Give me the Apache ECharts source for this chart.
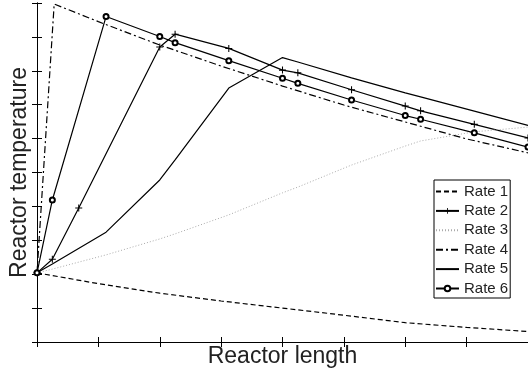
<!DOCTYPE html>
<html>
<head>
<meta charset="utf-8">
<script src="https://cdn.jsdelivr.net/npm/echarts@6/dist/echarts.min.js"></script>
<style>
html,body{margin:0;padding:0;background:#fff;}
#c{width:528px;height:376px;}
</style>
</head>
<body>
<div id="c"></div>
<script>
// ---- data (x: reactor length units 0..8, y: temperature units 0..10) ----
const seriesNames = ['Rate 1','Rate 2','Rate 3','Rate 4','Rate 5','Rate 6'];
const xTicks = [0,1,2,3,4,5,6,7,8];
const yTicks = [0,1,2,3,4,5,6,7,8,9,10];

const rate1X = [0,1,2,3,4,5,6,7,8];
const rate1Y = [2.04,1.72,1.44,1.21,1.00,0.79,0.57,0.43,0.31];

const stepX  = [0,0.25,1.125,2,2.25,3.125,4,4.25,5.125,6,6.25,7.125,8];
const rate2X = [0,0.25,0.68,2,2.25,3.125,4,4.25,5.125,6,6.25,7.125,8];
const rate2Y = [2.04,2.44,3.95,8.70,9.08,8.66,8.02,7.94,7.44,6.96,6.82,6.42,6.02];
const rate3Y = [2.04,2.15,2.57,3.04,3.19,3.75,4.40,4.57,5.22,5.78,5.93,6.20,6.34];
const rate5Y = [2.04,2.30,3.24,4.78,5.37,7.49,8.39,8.26,7.79,7.35,7.23,6.81,6.39];
const rate6Y = [2.04,4.19,9.60,9.01,8.83,8.30,7.78,7.63,7.14,6.68,6.57,6.17,5.75];

const rate4X = [0,0.28,1,2,3,4,5,6,7,8];
const rate4Y = [2.04,9.97,9.45,8.76,8.14,7.55,6.99,6.49,5.99,5.58];

function pairs(xs, ys){ return xs.map((x,i)=>[x, ys[i]]); }

const chart = echarts.init(document.getElementById('c'), null, {renderer:'canvas'});
const FONT = 'Liberation Sans, Arial, Helvetica, sans-serif';
const plusPath = 'path://M-0.15,-1H0.15V-0.15H1V0.15H0.15V1H-0.15V0.15H-1V-0.15H-0.15Z';
const HIDE = {color:'rgba(0,0,0,0)', borderColor:'rgba(0,0,0,0)', borderWidth:0};

const axisCommon = {
  type:'value',
  axisLine:{show:true, lineStyle:{color:'#000', width:1}},
  axisTick:{show:true, inside:true, length:5, lineStyle:{color:'#000', width:1}},
  axisLabel:{show:false},
  splitLine:{show:false}
};

const option = {
  animation:false,
  backgroundColor:'#fff',
  grid:{left:37, top:3, width:493, height:339, containLabel:false},
  xAxis:[
    Object.assign({}, axisCommon, {position:'bottom', min:0, max:8, interval:1,
      name:'Reactor length', nameLocation:'middle', nameGap:3,
      nameTextStyle:{fontFamily:FONT, fontSize:23, color:'#222', verticalAlign:'top'}}),
    Object.assign({}, axisCommon, {position:'top', min:0, max:8, interval:1})
  ],
  yAxis:[
    Object.assign({}, axisCommon, {position:'left', min:0, max:10, interval:1,
      name:'Reactor temperature', nameLocation:'middle', nameGap:6,
      nameTextStyle:{fontFamily:FONT, fontSize:23, color:'#222'}}),
    Object.assign({}, axisCommon, {position:'right', min:0, max:10, interval:1})
  ],
  legend:{
    orient:'vertical', left:434, top:180,
    data:[
      {name:'Rate 1', itemStyle:HIDE},
      {name:'Rate 2'},
      {name:'Rate 3', itemStyle:HIDE},
      {name:'Rate 4', itemStyle:HIDE},
      {name:'Rate 5', itemStyle:HIDE},
      {name:'Rate 6'}
    ],
    itemWidth:23, itemHeight:7, itemGap:4.4,
    padding:[4,2,2,1],
    backgroundColor:'#fff', borderColor:'#000', borderWidth:1,
    textStyle:{fontFamily:FONT, fontSize:15, lineHeight:15, color:'#222'}
  },
  series:[
    {name:'Rate 1', type:'line', data:pairs(rate1X, rate1Y), symbol:'none',
     lineStyle:{color:'#000', width:1.2, type:[5,3]}, itemStyle:{color:'#000'}},
    {name:'Rate 2', type:'line', data:pairs(rate2X, rate2Y), symbol:plusPath, symbolSize:7,
     lineStyle:{color:'#000', width:1.2}, itemStyle:{color:'#000'}},
    {name:'Rate 3', type:'line', data:pairs(stepX, rate3Y), symbol:'none',
     lineStyle:{color:'#aaa', width:1, type:[1,2]}, itemStyle:{color:'#aaa'}},
    {name:'Rate 4', type:'line', data:pairs(rate4X, rate4Y), symbol:'none',
     lineStyle:{color:'#000', width:1.2, type:[7,3,2,3]}, itemStyle:{color:'#000'}},
    {name:'Rate 5', type:'line', data:pairs(stepX, rate5Y), symbol:'none',
     lineStyle:{color:'#000', width:1.2}, itemStyle:{color:'#000'}},
    {name:'Rate 6', type:'line', data:pairs(stepX, rate6Y), symbol:'emptyCircle', symbolSize:5,
     lineStyle:{color:'#000', width:1.2}, itemStyle:{color:'#000', borderWidth:1.2}}
  ]
};
chart.setOption(option);
</script>
</body>
</html>
